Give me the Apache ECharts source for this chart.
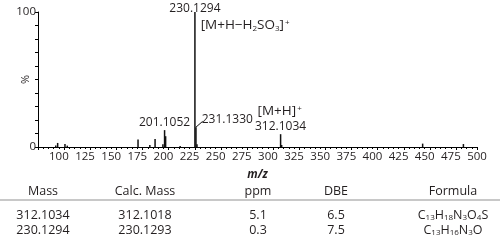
<!DOCTYPE html>
<html><head><meta charset="utf-8">
<script src="https://cdn.jsdelivr.net/npm/echarts@6/dist/echarts.min.js"></script>
<style>html,body{margin:0;padding:0;background:#fff}#c{width:500px;height:246px}</style>
</head><body><div id="c"></div>
<script>
// ---- data ----
var peakMz  = [97, 98.8, 105.8, 108, 175.7, 187, 192, 199.5, 201.1, 202.1, 216, 230.13, 231.13, 232.1, 312.1, 313.1, 448, 487];
var peakInt = [1.2, 3, 2.2, 1, 5.5, 1.5, 6, 2, 12.5, 8, 0.8, 100, 14.7, 2, 9.5, 1.5, 2.5, 2.2];
var peakLabels = {"201.1": "201.1052", "230.13": "230.1294", "312.1": "312.1034"};
var xTicks = [100, 125, 150, 175, 200, 225, 250, 275, 300, 325, 350, 375, 400, 425, 450, 475, 500];
var tableHeader = ["Mass", "Calc. Mass", "ppm", "DBE", "Formula"];
var tableMass = ["312.1034", "230.1294"];
var tableCalc = ["312.1018", "230.1293"];
var tablePpm = ["5.1", "0.3"];
var tableDbe = ["6.5", "7.5"];
var tableFormula = [
  [["C","13"],["H","18"],["N","3"],["O","4"],["S",""]],
  [["C","13"],["H","16"],["N","3"],["O",""]]
];

var FONT = "Open Sans";
var TXT = "#231f20";
var chart = echarts.init(document.getElementById('c'));

var barData = peakMz.map(function (m, i) {
  var key = String(m);
  var d = {value: [m, peakInt[i]]};
  if (peakLabels[key]) {
    d.label = {show: true, position: 'top', distance: peakInt[i] >= 100 ? 0 : 2,
      offset: [0, peakInt[i] >= 100 ? 3 : 0], formatter: peakLabels[key],
      fontFamily: FONT, fontSize: 12, color: TXT};
  }
  return d;
});

function formulaRich(parts) {
  return parts.map(function (p) { return p[0] + (p[1] ? '{s|' + p[1] + '}' : ''); }).join('');
}

var cols = [43, 145, 258, 336, 453];
var graphics = [];
tableHeader.forEach(function (h, i) {
  graphics.push({type: 'text', x: cols[i], y: 191, style: {text: h, x: 0, y: 0, align: 'center', verticalAlign: 'middle',
    font: '12.5px "' + FONT + '"', fill: TXT}});
});
graphics.push({type: 'rect', shape: {x: 0, y: 199, width: 500, height: 2}, style: {fill: '#c8c8c8'}});
var rowsY = [215, 230];
[tableMass, tableCalc, tablePpm, tableDbe].forEach(function (col, ci) {
  col.forEach(function (v, ri) {
    graphics.push({type: 'text', x: cols[ci], y: rowsY[ri], style: {text: v, align: 'center', verticalAlign: 'middle',
      font: '12.5px "' + FONT + '"', fill: TXT}});
  });
});
tableFormula.forEach(function (f, ri) {
  graphics.push({type: 'text', x: cols[4], y: rowsY[ri], style: {text: formulaRich(f), align: 'center', verticalAlign: 'middle',
    fontFamily: FONT, fontSize: 12.5, fill: TXT,
    rich: {s: {fontSize: 8, fontFamily: FONT, fill: TXT, verticalAlign: 'bottom', padding: [6, 0, 0, 0]}}}});
});

chart.setOption({
  animation: false,
  grid: {left: 38, right: 23, top: 12, bottom: 99, containLabel: false, outerBoundsMode: 'none'},
  xAxis: {
    type: 'value', min: 80, max: 500, interval: 25,
    axisLine: {lineStyle: {color: '#000', width: 1}},
    axisTick: {show: true, length: 3, lineStyle: {color: '#000'}},
    minorTick: {show: true, splitNumber: 5, length: 2, lineStyle: {color: '#000'}},
    splitLine: {show: false},
    axisLabel: {fontFamily: FONT, fontSize: 11.5, color: TXT, margin: 4,
      customValues: xTicks},
    name: 'm/z', nameLocation: 'middle', nameGap: 22, nameMoveOverlap: false,
    nameTextStyle: {fontFamily: FONT, fontSize: 11.5, fontStyle: 'italic', fontWeight: 'bold', color: TXT}
  },
  yAxis: {
    type: 'value', min: 0, max: 100, interval: 10,
    axisLine: {show: true, lineStyle: {color: '#000'}},
    axisTick: {show: true, length: 3, lineStyle: {color: '#000'}},
    splitLine: {show: false},
    axisLabel: {fontFamily: FONT, fontSize: 11.5, color: TXT, margin: 2,
      formatter: function (v) { return (v === 0 || v === 100) ? String(v) : ''; }},
    name: '%', nameLocation: 'middle', nameGap: 7, nameRotate: 90, nameMoveOverlap: false,
    nameTextStyle: {fontFamily: FONT, fontSize: 11, color: TXT}
  },
  series: [
    {type: 'bar', data: barData, barWidth: 1.5, itemStyle: {color: '#111'}, z: 3},
    {type: 'line', data: [[231.13, 14.7], [237.5, 19]], symbol: 'none', lineStyle: {color: '#111', width: 1}, silent: true},
    {type: 'scatter', symbolSize: 0, silent: true, itemStyle: {opacity: 1},
      data: [
        {value: [235.6, 90], label: {formatter: '[M+H\u2212H{s|2}SO{s|3}]{p|+}', fontSize: 13.5}},
        {value: [236.6, 20], label: {formatter: '231.1330'}},
        {value: [290, 26.5], label: {formatter: '[M+H]{p|+}', fontSize: 13.5}}
      ],
      label: {show: true, position: 'right', distance: 0, fontFamily: FONT, fontSize: 12, color: TXT,
        rich: {s: {fontSize: 8, fontFamily: FONT, color: TXT, verticalAlign: 'bottom', padding: [6, 0, 0, 0]},
               p: {fontSize: 8, fontFamily: FONT, color: TXT, verticalAlign: 'top', padding: [0, 0, 6, 1]}}}
    }
  ],
  graphic: graphics
});
</script></body></html>
